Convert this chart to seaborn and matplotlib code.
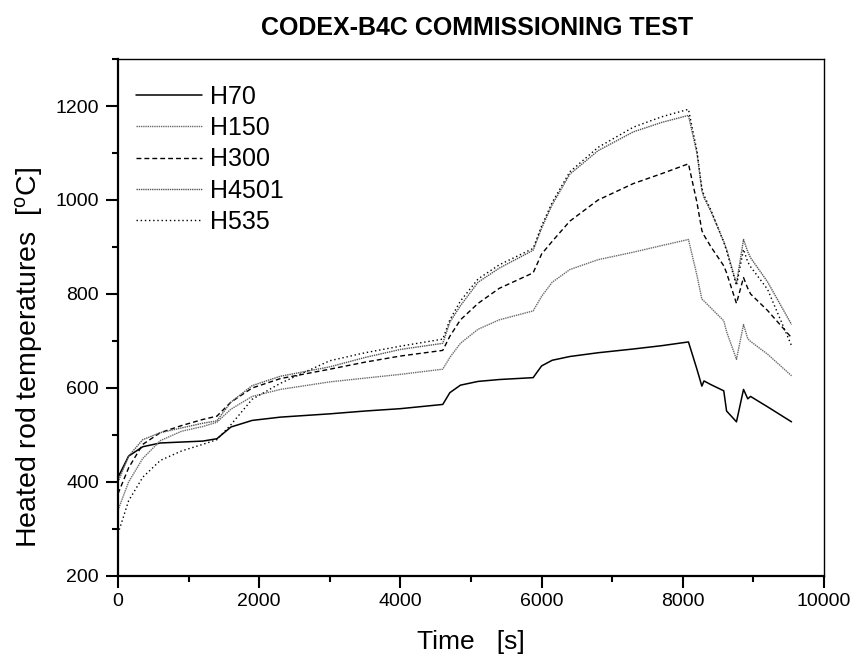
import matplotlib
matplotlib.use("Agg")
import matplotlib.pyplot as plt
from matplotlib.ticker import MultipleLocator
import seaborn as sns
import pandas as pd

# ---- data ----
time_s = [0, 150, 350, 600, 900, 1200, 1400, 1600, 1900, 2300, 3000, 3500, 4000,
          4600, 4700, 4850, 5100, 5400, 5880, 6000, 6150, 6400, 6800, 7300, 7700,
          8080, 8200, 8270, 8300, 8400, 8580, 8620, 8760, 8860, 8920, 8960, 9200, 9540]

h70 = [410, 455, 475, 483, 485, 487, 492, 517, 531, 538, 545, 551, 556,
       565, 590, 606, 614, 618, 622, 647, 659, 667, 675, 683, 690,
       698, 640, 604, 615, 607, 594, 551, 528, 597, 577, 582, 560, 528]

h150 = [340, 400, 450, 488, 508, 518, 527, 555, 582, 597, 613, 621, 629,
        640, 665, 695, 725, 745, 764, 795, 825, 852, 873, 889, 903,
        916, 840, 789, 785, 770, 743, 720, 661, 735, 705, 699, 672, 626]

h300 = [375, 430, 480, 505, 520, 533, 540, 570, 600, 620, 640, 655, 668,
        680, 710, 745, 780, 812, 845, 885, 912, 955, 1000, 1035, 1056,
        1077, 995, 935, 925, 900, 860, 845, 780, 835, 812, 800, 765, 707]

h4501 = [400, 455, 490, 505, 515, 525, 530, 570, 605, 625, 645, 665, 682,
         695, 740, 775, 825, 855, 893, 940, 990, 1055, 1105, 1145, 1165,
         1180, 1100, 1020, 1005, 975, 912, 895, 822, 916, 890, 877, 826, 735]

h535 = [290, 360, 410, 446, 466, 480, 490, 522, 576, 610, 658, 675, 689,
        704, 745, 785, 832, 862, 897, 945, 995, 1060, 1112, 1155, 1177,
        1193, 1105, 1025, 1010, 978, 910, 892, 818, 895, 868, 858, 810, 690]

series_names = ["H70", "H150", "H300", "H4501", "H535"]
series_values = [h70, h150, h300, h4501, h535]

x_ticks = [0, 2000, 4000, 6000, 8000, 10000]
y_ticks = [200, 400, 600, 800, 1000, 1200]

# ---- style ----
sns.set_theme(style="white")
plt.rcParams["font.family"] = ["Liberation Sans", "DejaVu Sans"]
plt.rcParams["mathtext.fontset"] = "custom"
plt.rcParams["mathtext.rm"] = "Liberation Sans"
plt.rcParams["mathtext.it"] = "Liberation Sans"
for k in ("text.color", "axes.labelcolor", "xtick.color", "ytick.color", "axes.edgecolor"):
    plt.rcParams[k] = "black"

styles = {
    "H70": dict(color="black", linestyle="-", lw=1.1),
    "H150": dict(color="#6a6a6a", linestyle=(0, (1, 0.6)), lw=1.0),
    "H300": dict(color="black", linestyle=(0, (3.5, 2.2)), lw=1.0),
    "H4501": dict(color="#555555", linestyle=(0, (1, 0.6)), lw=1.0),
    "H535": dict(color="black", linestyle=(0, (1, 2)), lw=1.0),
}

frames = []
for name, vals in zip(series_names, series_values):
    frames.append(pd.DataFrame({"Time": time_s, "Temp": vals, "Rod": name}))
df = pd.concat(frames, ignore_index=True)

fig = plt.figure(figsize=(8.57, 6.6), dpi=100)
ax = fig.add_axes([0.1377, 0.1273, 0.8238, 0.7833])

for name in series_names:
    sub = df[df["Rod"] == name]
    sns.lineplot(data=sub, x="Time", y="Temp", ax=ax, label=name,
                 estimator=None, sort=False, **styles[name])

ax.set_xlim(0, 10000)
ax.set_ylim(200, 1300)
ax.set_xticks(x_ticks)
ax.set_yticks(y_ticks)
ax.xaxis.set_minor_locator(MultipleLocator(1000))
ax.yaxis.set_minor_locator(MultipleLocator(100))
ax.tick_params(which="major", direction="out", length=8.6, width=1.5,
               labelsize=14, bottom=True, left=True, top=False, right=False)
ax.tick_params(which="minor", direction="out", length=4.3, width=1.5,
               bottom=True, left=True, top=False, right=False)
ax.tick_params(axis="x", which="major", pad=4)
ax.tick_params(axis="y", which="major", pad=5)
for sp in ax.spines.values():
    sp.set_visible(True)
    sp.set_color("black")
for k in ("left", "bottom"):
    ax.spines[k].set_linewidth(1.6)
for k in ("top", "right"):
    ax.spines[k].set_linewidth(1.0)

ax.set_xlabel("Time   [s]", fontsize=19)
ax.set_ylabel(r"Heated rod temperatures  [$^{\mathrm{o}}$C]", fontsize=20.5)
ax.xaxis.set_label_coords(0.5, -0.105)
ax.yaxis.set_label_coords(-0.104, 0.4225)
fig.text(0.557, 0.958, "CODEX-B4C COMMISSIONING TEST", ha="center", va="center",
         fontsize=18, fontweight="bold")

leg = ax.legend(loc="upper left", frameon=False, fontsize=18,
                handlelength=2.64, handletextpad=0.32, labelspacing=0.29,
                borderaxespad=0.3, bbox_to_anchor=(0.0, 0.984))

fig.savefig("out.png", dpi=100)
